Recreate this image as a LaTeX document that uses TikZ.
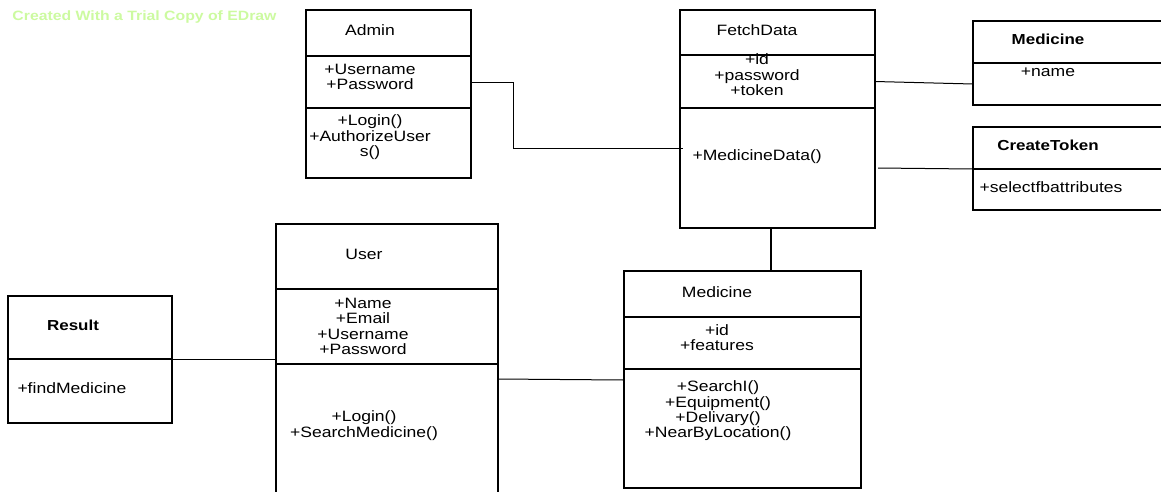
\documentclass[tikz,border=0pt]{standalone}
\usepackage{fontspec}
\setmainfont{Liberation Sans}[FakeStretch=1.17]
\usepackage{tikz}
\usetikzlibrary{positioning, calc}
\definecolor{trialgreen}{RGB}{204,250,160}
\tikzset{class box/.style={draw, rectangle, line width=1.1pt, minimum width=#1, inner sep=0pt, outer sep=0pt},
	class box/.default=165pt,
	member/.style={inner sep=0pt, align=center, font=\fontsize{15}{15.4}\selectfont},
	bold member/.style={member, font=\fontsize{14.5}{15.4}\selectfont\bfseries},}

\begin{document}
\begin{tikzpicture}[x=1pt, y=-1pt, line width=1pt]
				\useasboundingbox (0,0) rectangle (1161,491);
				\node[font=\fontsize{13.5}{13.5}\selectfont\bfseries, text=trialgreen, anchor=west, inner sep=0pt] (trial) at (12,17) {Created With a Trial Copy of EDraw};
				% Classes
				\node[class box=165pt, minimum height=46pt, anchor=north west] (admin) at (306,10) {};
				\node[class box=165pt, minimum height=52pt, below=0pt of admin] (admin-a) {};
				\node[class box=165pt, minimum height=70pt, below=0pt of admin-a] (admin-o) {};
				\node[class box=195pt, minimum height=45pt, anchor=north west] (fetch) at (680,10) {};
				\node[class box=195pt, minimum height=53pt, below=0pt of fetch] (fetch-a) {};
				\node[class box=195pt, minimum height=120pt, below=0pt of fetch-a] (fetch-o) {};
				\node[class box=200pt, minimum height=42pt, anchor=north west] (medname) at (973,21) {};
				\node[class box=200pt, minimum height=42pt, below=0pt of medname] (medname-a) {};
				\node[class box=200pt, minimum height=42pt, anchor=north west] (token) at (973,127) {};
				\node[class box=200pt, minimum height=41pt, below=0pt of token] (token-a) {};
				\node[class box=222pt, minimum height=65pt, anchor=north west] (user) at (276,224) {};
				\node[class box=222pt, minimum height=75pt, below=0pt of user] (user-a) {};
				\node[class box=222pt, minimum height=140pt, below=0pt of user-a] (user-o) {};
				\node[class box=164pt, minimum height=63pt, anchor=north west] (result) at (8,296) {};
				\node[class box=164pt, minimum height=64pt, below=0pt of result] (result-o) {};
				\node[class box=237pt, minimum height=46pt, anchor=north west] (medicine) at (624,271) {};
				\node[class box=237pt, minimum height=52pt, below=0pt of medicine] (medicine-a) {};
				\node[class box=237pt, minimum height=119pt, below=0pt of medicine-a] (medicine-o) {};
				% Members
				\node[member] (admin-t) at (370,30) {Admin};
				\node[member] (admin-at) at (370,77) {+Username\\+Password};
				\node[member] (admin-ot) at (370,137.5) {+Login()\\+AuthorizeUser\\s()};
				\node[member] (fetch-t) at (757,30) {FetchData};
				\node[member] (fetch-at) at (757,75) {+id\\+password\\+token};
				\node[member, anchor=west] (fetch-ot) at (692,157) {+MedicineData()};
				\node[bold member] (medname-t) at (1048,39) {Medicine};
				\node[member] (medname-at) at (1048,72) {+name};
				\node[bold member] (token-t) at (1048,145) {CreateToken};
				\node[member, anchor=west] (token-at) at (979,187) {+selectfbattributes};
				\node[member] (user-t) at (364,254) {User};
				\node[member] (user-at) at (363,326.5) {+Name\\+Email\\+Username\\+Password};
				\node[member] (user-ot) at (364,425.5) {+Login()\\+SearchMedicine()};
				\node[bold member] (result-t) at (73,325) {Result};
				\node[member, anchor=west] (result-ot) at (17,388) {+findMedicine};
				\node[member] (medicine-t) at (717,292) {Medicine};
				\node[member] (medicine-at) at (717,337.5) {+id\\+features};
				\node[member] (medicine-ot) at (718,411) {+SearchI()\\+Equipment()\\+Delivary()\\+NearByLocation()};
				% Paths
				\coordinate (drop) at ($(fetch-o.south)+(-6.5,0)$);
				\draw (admin-a.east) -- ++(42,0) |- ($(fetch-o.west)+(3,-20)$);
				\draw (fetch-a.east) -- (medname-a.west);
				\draw ($(fetch-o.east)+(3,0)$) -- (token.south west);
				\draw (result.south east) -- (result.south east -| user-a.west);
				\draw ($(user-o.north east)+(0,15)$) -- ($(medicine-o.north west)+(0,11)$);
				\draw[line width=2.5pt] (drop) -- (drop |- medicine.north);
			\end{tikzpicture}
\end{document}
